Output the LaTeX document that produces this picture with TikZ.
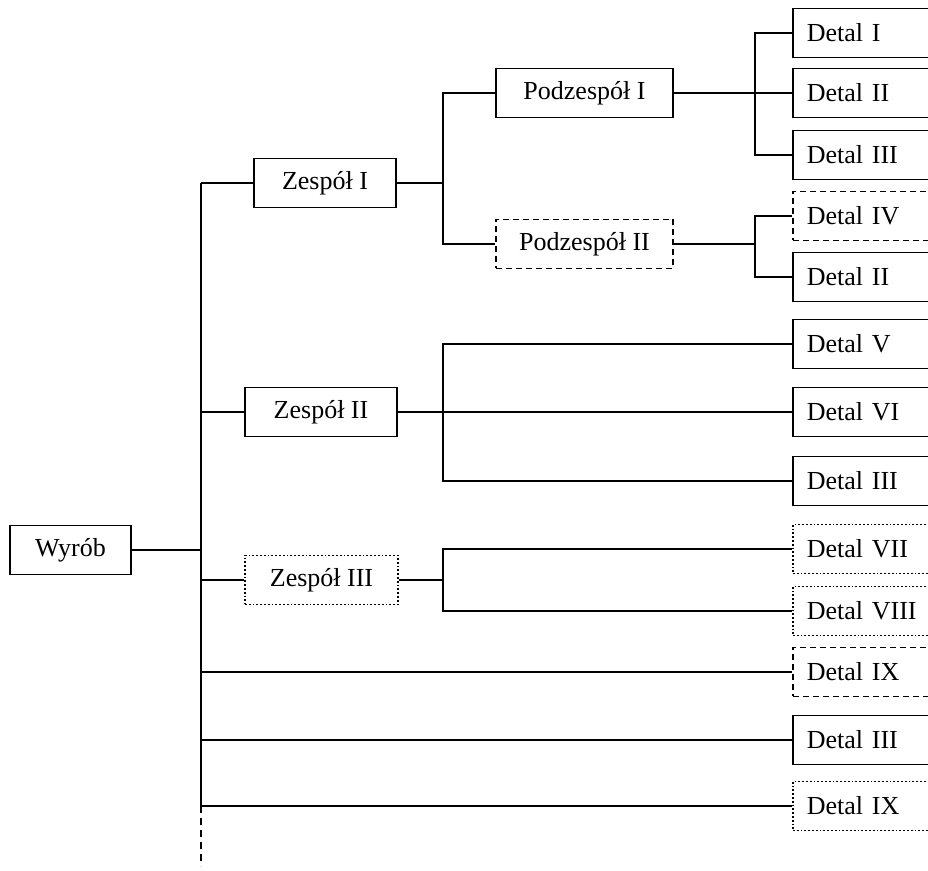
\documentclass[tikz,border=0pt]{standalone}
\usepackage{fontspec}
\setmainfont{Liberation Serif}
\usetikzlibrary{positioning}
\tikzset{
  x=0.5pt,y=-0.5pt,
  every path/.style={line width=0.95pt},
  box/.style={draw,line width=0.9pt,minimum height=24.5pt,inner sep=0pt,
    align=center,font=\fontsize{13}{15}\selectfont},
  grp/.style={box,minimum width=#1},
  grp/.default=71pt,
  part/.style={box,anchor=west,inner xsep=7pt,text width=62pt,align=left},
  dashbox/.style={dash pattern=on 3pt off 2pt},
  dotbox/.style={densely dotted},
}
\begin{document}
\begin{tikzpicture}
  \useasboundingbox (0,0) rectangle (928,871);
  % product and assemblies
  \node[grp=60.5pt] (wyrob) at (70.5,550) {Wyrób};
  \node[grp=71pt] (zesp1) at (325,183) {Zespół I};
  \node[grp=76pt] (zesp2) at (321,412) {Zespół II};
  \node[grp=76.5pt,dotbox] (zesp3) at (321.5,580) {Zespół III};
  \node[grp=88.5pt] (podz1) at (584.5,93) {Podzespół I};
  \node[grp=88.5pt,dashbox] (podz2) at (584.5,244) {Podzespół II};
  % parts
  \node[part] (det1) at (792,33) {Detal I};
  \node[part] (det2) at (792,93) {Detal II};
  \node[part] (det3) at (792,155) {Detal III};
  \node[part,dashbox] (det4) at (792,216) {Detal IV};
  \node[part] (det5) at (792,277) {Detal II};
  \node[part] (det6) at (792,344) {Detal V};
  \node[part] (det7) at (792,412) {Detal VI};
  \node[part] (det8) at (792,481) {Detal III};
  \node[part,dotbox] (det9) at (792,549) {Detal VII};
  \node[part,dotbox] (det10) at (792,611) {Detal VIII};
  \node[part,dashbox] (det11) at (792,672) {Detal IX};
  \node[part] (det12) at (792,740) {Detal III};
  \node[part,dotbox] (det13) at (792,806) {Detal IX};
  % branch lines
  \coordinate (trunk) at (201,183);
  \coordinate (gal1) at (443,0);
  \coordinate (gal2) at (755,0);
  \coordinate (trunkend) at (201,866);
  \draw (zesp1.west -| trunk) -- (det13.west -| trunk);
  \draw[dash pattern=on 3.5pt off 2.5pt] (det13.west -| trunk) -- (trunkend);
  \draw (wyrob.east) -- (wyrob.east -| trunk);
  \draw (zesp1.west -| trunk) -- (zesp1.west);
  \draw (zesp2.west -| trunk) -- (zesp2.west);
  \draw (zesp3.west -| trunk) -- (zesp3.west);
  \draw (det11.west -| trunk) -- (det11.west);
  \draw (det12.west -| trunk) -- (det12.west);
  \draw (det13.west -| trunk) -- (det13.west);
  % Zespol I
  \draw (zesp1.east) -- (zesp1.east -| gal1);
  \draw (podz1.west) -- (podz1.west -| gal1) -- (podz2.west -| gal1) -- (podz2.west);
  \draw (podz1.east) -- (det2.west);
  \draw (det1.west) -- (det1.west -| gal2) -- (det3.west -| gal2) -- (det3.west);
  \draw (podz2.east) -- (podz2.east -| gal2);
  \draw (det4.west) -- (det4.west -| gal2) -- (det5.west -| gal2) -- (det5.west);
  % Zespol II
  \draw (zesp2.east) -- (det7.west);
  \draw (det6.west) -- (det6.west -| gal1) -- (det8.west -| gal1) -- (det8.west);
  % Zespol III
  \draw (zesp3.east) -- (zesp3.east -| gal1);
  \draw (det9.west) -- (det9.west -| gal1) -- (det10.west -| gal1) -- (det10.west);
\end{tikzpicture}
\end{document}
